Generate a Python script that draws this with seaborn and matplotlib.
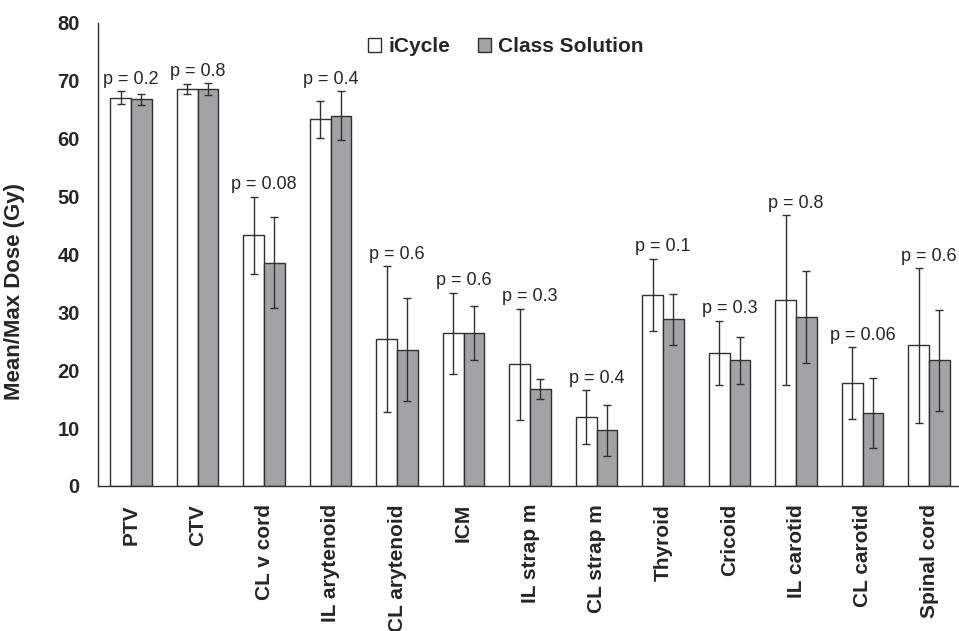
import pandas as pd
import matplotlib
matplotlib.use('Agg')
import matplotlib.pyplot as plt
import seaborn as sns

# values
structures = ['PTV', 'CTV', 'CL v cord', 'IL arytenoid', 'CL arytenoid', 'ICM',
              'IL strap m', 'CL strap m', 'Thyroid', 'Cricoid', 'IL carotid',
              'CL carotid', 'Spinal cord']
icycle = [67.1, 68.6, 43.3, 63.4, 25.4, 26.4, 21.0, 11.9, 33.0, 23.0, 32.1, 17.8, 24.3]
icycle_sd = [1.1, 0.8, 6.7, 3.2, 12.6, 7.0, 9.6, 4.6, 6.25, 5.55, 14.7, 6.2, 13.35]
class_sol = [66.8, 68.6, 38.6, 64.0, 23.5, 26.4, 16.8, 9.6, 28.8, 21.7, 29.2, 12.6, 21.7]
class_sd = [0.9, 1.0, 7.9, 4.2, 8.9, 4.7, 1.75, 4.35, 4.45, 4.0, 7.9, 6.0, 8.75]
p_values = ['0.2', '0.8', '0.08', '0.4', '0.6', '0.6', '0.3', '0.4', '0.1', '0.3', '0.8', '0.06', '0.6']

series = ['iCycle', 'Class Solution']

df = pd.DataFrame({
    'Structure': structures * 2,
    'Dose': icycle + class_sol,
    'Plan': [series[0]] * len(structures) + [series[1]] * len(structures),
})

sns.set_style('white')
plt.rcParams['font.family'] = ['Liberation Sans', 'DejaVu Sans']

fig = plt.figure(figsize=(9.59, 6.31), dpi=100)
ax = fig.add_axes([0.102, 0.2298, 0.9015, 0.7338])

sns.barplot(data=df, x='Structure', y='Dose', hue='Plan', hue_order=series,
            palette=['white', '#a3a3a6'], edgecolor='#303030', linewidth=1.0,
            width=0.62, errorbar=None, ax=ax)

# error bars and p-values, placed from the bar positions
tops = {}
for container, sds in zip(ax.containers, [icycle_sd, class_sd]):
    xs = [b.get_x() + b.get_width() / 2 for b in container]
    hs = [b.get_height() for b in container]
    ax.errorbar(xs, hs, yerr=sds, fmt='none', ecolor='#303030',
                elinewidth=1.0, capsize=2.8, capthick=1.0, zorder=3)
    for i, (h, s) in enumerate(zip(hs, sds)):
        tops[i] = max(tops.get(i, 0), h + s)

for i, p in enumerate(p_values):
    ax.text(i, tops[i] + 0.6, 'p = ' + p, ha='center', va='bottom', fontsize=13)

ax.set_ylim(0, 80)
ax.set_xlim(-0.5, len(structures) - 0.5)
ax.set_yticks(range(0, 81, 10))
ax.set_ylabel('Mean/Max Dose (Gy)', fontsize=16, fontweight='bold')
ax.yaxis.set_label_coords(-0.0845, 0.42)
ax.set_xlabel('')

ax.set_xticks(range(len(structures)))
ax.set_xticklabels(structures, rotation=90, fontsize=15, fontweight='bold')
ax.set_xticks([i - 0.5 for i in range(len(structures) + 1)], minor=True)
ax.tick_params(axis='x', which='major', length=0, pad=13)
ax.tick_params(axis='x', which='minor', length=5, width=1, color='#303030', direction='out')
ax.tick_params(axis='y', length=5, width=1, color='#303030', direction='out', labelsize=14.5, pad=8)
for lab in ax.get_yticklabels():
    lab.set_fontweight('bold')

sns.despine(ax=ax)
for sp in ['left', 'bottom']:
    ax.spines[sp].set_color('#303030')
    ax.spines[sp].set_linewidth(1.0)

leg = ax.legend(loc='center', bbox_to_anchor=(0.472, 0.949), ncol=2, frameon=False,
                handlelength=0.65, handleheight=0.65, handletextpad=0.35, columnspacing=1.3,
                prop={'weight': 'bold', 'size': 15})

plt.savefig('out.png', dpi=100)
